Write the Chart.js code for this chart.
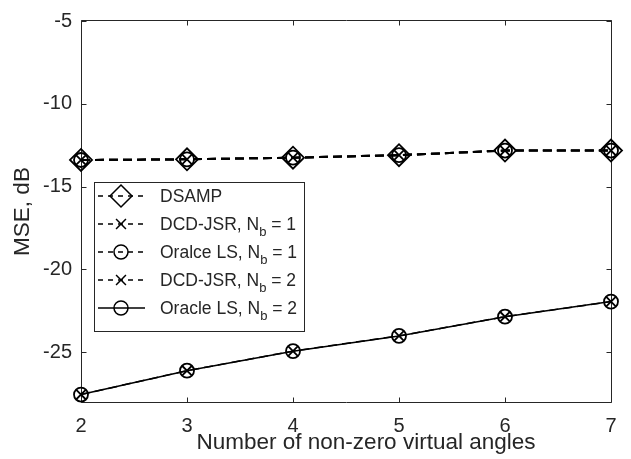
<!DOCTYPE html>
<html>
<head>
<meta charset="utf-8">
<script src="https://cdn.jsdelivr.net/npm/chart.js@4.4.0/dist/chart.umd.min.js"></script>
<style>
  html, body { margin: 0; padding: 0; background: #fff; }
  #wrap { width: 631px; height: 459px; }
</style>
</head>
<body>
<div id="wrap"><canvas id="mse-chart" width="631" height="459"></canvas></div>
<script>
// values (MSE in dB)
const angles = [2, 3, 4, 5, 6, 7];
const dsamp = [-13.39, -13.35, -13.25, -13.10, -12.82, -12.82];
const dcdJsr1 = [-13.39, -13.35, -13.25, -13.10, -12.82, -12.82];
const oracleLs1 = [-13.39, -13.35, -13.25, -13.10, -12.82, -12.82];
const dcdJsr2 = [-27.55, -26.11, -24.93, -24.01, -22.85, -21.94];
const oracleLs2 = [-27.55, -26.11, -24.93, -24.01, -22.85, -21.94];

const xTicks = [2, 3, 4, 5, 6, 7];
const yTicks = [-25, -20, -15, -10, -5];
const legendLabels = ["DSAMP", "DCD-JSR, N_b = 1", "Oralce LS, N_b = 1", "DCD-JSR, N_b = 2", "Oracle LS, N_b = 2"];
const xTitle = "Number of non-zero virtual angles";

const fontFamily = "'Liberation Sans', Arial, Helvetica, sans-serif";
const textColor = "#262626";
const axisColor = "#262626";

function toPoints(values) {
  return angles.map((a, i) => ({ x: a, y: values[i] }));
}

function series(label, values, style, radius, dashed, width) {
  return {
    label: label,
    data: toPoints(values),
    borderColor: "#000",
    borderWidth: width,
    borderDash: dashed ? [9, 5] : [],
    pointStyle: style,
    pointRadius: radius,
    pointBorderWidth: 1.8,
    pointBorderColor: "#000",
    pointBackgroundColor: "rgba(0,0,0,0)",
    tension: 0,
    clip: false
  };
}

// box around the plot with inward ticks, like the original figure
const boxTicks = {
  id: "boxTicks",
  beforeDatasetsDraw(chart) {
    const { ctx, chartArea: a, scales: { x, y } } = chart;
    const L = Math.round(a.left) + 0.5, R = Math.round(a.right) + 0.5;
    const T = Math.round(a.top) - 0.5, B = Math.round(a.bottom) + 0.5;
    ctx.save();
    ctx.strokeStyle = axisColor;
    ctx.lineWidth = 1;
    ctx.beginPath();
    ctx.rect(L, T, R - L, B - T);
    xTicks.forEach(v => {
      const px = Math.round(x.getPixelForValue(v)) + 0.5;
      ctx.moveTo(px, B); ctx.lineTo(px, B - 5);
      ctx.moveTo(px, T); ctx.lineTo(px, T + 5);
    });
    yTicks.forEach(v => {
      const py = Math.round(y.getPixelForValue(v)) + 0.5;
      ctx.moveTo(L, py); ctx.lineTo(L + 5, py);
      ctx.moveTo(R, py); ctx.lineTo(R - 5, py);
    });
    ctx.stroke();

    // x label sits a little right of the axes centre in the original
    ctx.fillStyle = textColor;
    ctx.font = "22.5px " + fontFamily;
    ctx.textAlign = "center";
    ctx.textBaseline = "middle";
    ctx.fillText(xTitle, (a.left + a.right) / 2 + 20, 443);
    ctx.restore();
  }
};

// legend box inside the axes, with N_b subscripts
const boxLegend = {
  id: "boxLegend",
  afterDraw(chart) {
    const { ctx } = chart;
    const bx = 94.5, by = 182.5, bw = 210, bh = 149;
    ctx.save();
    ctx.fillStyle = "#fff";
    ctx.fillRect(bx, by, bw, bh);
    ctx.strokeStyle = axisColor;
    ctx.lineWidth = 1;
    ctx.strokeRect(bx, by, bw, bh);

    chart.data.datasets.forEach((ds, i) => {
      const cy = 196 + i * 28;
      ctx.strokeStyle = "#000";
      ctx.lineWidth = 1.5;
      ctx.setLineDash(ds.borderDash.length ? [5, 5] : []);
      ctx.beginPath();
      ctx.moveTo(98, cy);
      ctx.lineTo(145, cy);
      ctx.stroke();
      ctx.setLineDash([]);
      ctx.fillStyle = "rgba(0,0,0,0)";
      Chart.helpers.drawPoint(ctx, {
        pointStyle: ds.pointStyle, radius: ds.pointRadius, rotation: 0, borderWidth: 1.5
      }, 121, cy);

      // text, with "_b" drawn as a subscript
      ctx.fillStyle = textColor;
      ctx.textBaseline = "alphabetic";
      const base = cy + 6;
      let tx = 160;
      const parts = legendLabels[i].split("_");
      ctx.font = "17.5px " + fontFamily;
      ctx.fillText(parts[0], tx, base);
      tx += ctx.measureText(parts[0]).width;
      if (parts.length > 1) {
        const sub = parts[1].charAt(0);
        const rest = parts[1].slice(1);
        ctx.font = "13px " + fontFamily;
        ctx.fillText(sub, tx, base + 6);
        tx += ctx.measureText(sub).width;
        ctx.font = "17.5px " + fontFamily;
        ctx.fillText(rest, tx, base);
      }
    });
    ctx.restore();
  }
};

const chart = new Chart(document.getElementById("mse-chart").getContext("2d"), {
  type: "line",
  data: {
    datasets: [
      series("DSAMP", dsamp, "rectRot", 11, true, 2),
      series("DCD-JSR, Nb = 1", dcdJsr1, "crossRot", 7, true, 2),
      series("Oralce LS, Nb = 1", oracleLs1, "circle", 7, true, 2),
      series("DCD-JSR, Nb = 2", dcdJsr2, "crossRot", 7, true, 1.5),
      series("Oracle LS, Nb = 2", oracleLs2, "circle", 7, false, 1.5)
    ]
  },
  options: {
    responsive: false,
    animation: false,
    devicePixelRatio: 1,
    layout: { padding: { top: 12, right: 20, left: 0, bottom: 0 } },
    plugins: {
      legend: { display: false },
      tooltip: { enabled: false }
    },
    scales: {
      x: {
        type: "linear",
        min: 2,
        max: 7,
        afterBuildTicks: s => { s.ticks = xTicks.map(v => ({ value: v })); },
        afterFit: s => { s.height = 57; },
        grid: { display: false, drawTicks: false },
        border: { display: false },
        ticks: { color: textColor, font: { family: fontFamily, size: 20 }, padding: 12, maxRotation: 0 },
        title: { display: false }
      },
      y: {
        type: "linear",
        min: -28,
        max: -5,
        afterBuildTicks: s => { s.ticks = yTicks.map(v => ({ value: v })); },
        afterFit: s => { s.width = 81; },
        grid: { display: false, drawTicks: false },
        border: { display: false },
        ticks: { color: textColor, font: { family: fontFamily, size: 20 }, padding: 9 },
        title: {
          display: true,
          text: "MSE, dB",
          color: textColor,
          font: { family: fontFamily, size: 22.5 },
          padding: { top: 9, bottom: 0 }
        }
      }
    }
  },
  plugins: [boxTicks, boxLegend]
});
</script>
</body>
</html>
